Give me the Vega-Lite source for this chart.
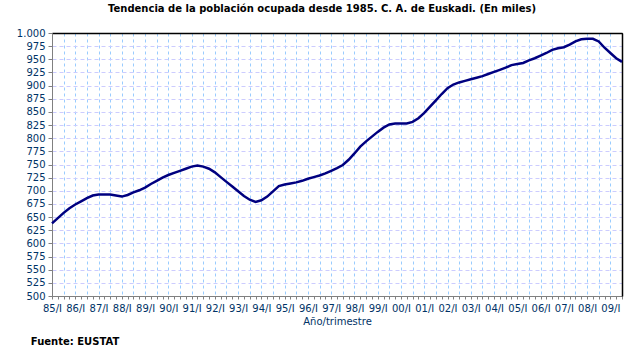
{
 "$schema": "https://vega.github.io/schema/vega-lite/v6.json",
 "background": "white",
 "padding": {"left": 15, "top": 3, "right": 18, "bottom": 6},
 "title": {"text": "Fuente: EUSTAT", "orient": "bottom", "anchor": "start", "frame": "bounds", "fontSize": 10, "fontWeight": "bold", "font": "DejaVu Sans", "color": "black", "offset": 10, "dx": 15},
 "config": {"font": "DejaVu Sans", "view": {"stroke": "black", "strokeWidth": 1}, "concat": {"spacing": 0}},
 "data": {"values": [
  {"t":0,"v":638},{"t":1,"v":648},{"t":2,"v":658},{"t":3,"v":667},{"t":4,"v":674},{"t":5,"v":680},{"t":6,"v":686},{"t":7,"v":691},{"t":8,"v":693},{"t":9,"v":693},
  {"t":10,"v":693},{"t":11,"v":691},{"t":12,"v":689},{"t":13,"v":692},{"t":14,"v":697},{"t":15,"v":701},{"t":16,"v":706},{"t":17,"v":713},{"t":18,"v":719},{"t":19,"v":725},
  {"t":20,"v":730},{"t":21,"v":734},{"t":22,"v":738},{"t":23,"v":742},{"t":24,"v":746},{"t":25,"v":748},{"t":26,"v":746},{"t":27,"v":742},{"t":28,"v":735},{"t":29,"v":726},
  {"t":30,"v":717},{"t":31,"v":708},{"t":32,"v":699},{"t":33,"v":690},{"t":34,"v":683},{"t":35,"v":679},{"t":36,"v":682},{"t":37,"v":689},{"t":38,"v":699},{"t":39,"v":709},
  {"t":40,"v":712},{"t":41,"v":714},{"t":42,"v":716},{"t":43,"v":719},{"t":44,"v":723},{"t":45,"v":726},{"t":46,"v":729},{"t":47,"v":733},{"t":48,"v":738},{"t":49,"v":743},
  {"t":50,"v":749},{"t":51,"v":759},{"t":52,"v":771},{"t":53,"v":784},{"t":54,"v":794},{"t":55,"v":803},{"t":56,"v":812},{"t":57,"v":820},{"t":58,"v":826},{"t":59,"v":828},
  {"t":60,"v":828},{"t":61,"v":828},{"t":62,"v":831},{"t":63,"v":838},{"t":64,"v":848},{"t":65,"v":860},{"t":66,"v":872},{"t":67,"v":884},{"t":68,"v":895},{"t":69,"v":902},
  {"t":70,"v":906},{"t":71,"v":909},{"t":72,"v":912},{"t":73,"v":915},{"t":74,"v":918},{"t":75,"v":922},{"t":76,"v":926},{"t":77,"v":930},{"t":78,"v":934},{"t":79,"v":939},
  {"t":80,"v":941},{"t":81,"v":943},{"t":82,"v":948},{"t":83,"v":952},{"t":84,"v":957},{"t":85,"v":962},{"t":86,"v":968},{"t":87,"v":971},{"t":88,"v":973},{"t":89,"v":978},
  {"t":90,"v":984},{"t":91,"v":988},{"t":92,"v":989},{"t":93,"v":989},{"t":94,"v":984},{"t":95,"v":972},{"t":96,"v":962},{"t":97,"v":952},{"t":98,"v":945}
 ]},
 "vconcat": [{
  "title": {"text": "Tendencia de la población ocupada desde 1985. C. A. de Euskadi. (En miles)", "fontSize": 10, "fontWeight": "bold", "color": "black", "offset": 14, "anchor": "middle", "dx": -15},
  "width": 570,
  "height": 263,
  "resolve": {"axis": {"x": "independent", "y": "independent"}},
  "layer": [
   {
    "mark": {"type": "line", "strokeOpacity": 0},
    "encoding": {
     "x": {"field": "t", "type": "quantitative", "scale": {"domain": [0, 98], "nice": false, "zero": false},
      "axis": {"orient": "bottom", "values": [2,4,6,8,10,12,14,16,18,20,22,24,26,28,30,32,34,36,38,40,42,44,46,48,50,52,54,56,58,60,62,64,66,68,70,72,74,76,78,80,82,84,86,88,90,92,94,96],
       "grid": true, "gridColor": "#99ccff", "gridDash": [3, 3], "gridWidth": 1, "domain": false, "ticks": false, "labels": false, "title": null}},
     "y": {"field": "v", "type": "quantitative", "scale": {"domain": [500, 1000], "nice": false, "zero": false},
      "axis": {"orient": "left", "values": [500,525,550,575,600,625,650,675,700,725,750,775,800,825,850,875,900,925,950,975,1000],
       "grid": true,
       "gridColor": {"condition": {"test": "datum.value == 1000", "value": "#000000"}, "value": "#ccccff"},
       "gridDash": {"condition": {"test": "datum.value == 1000", "value": []}, "value": [4, 3]},
       "gridWidth": {"condition": {"test": "datum.value == 1000", "value": 1.5}, "value": 1},
       "domainColor": "#808080", "tickColor": "#808080", "tickSize": 4,
       "labelColor": "#003366", "labelFontSize": 10, "labelPadding": 3, "labelExpr": "datum.value == 1000 ? '1.000' : datum.label", "title": null}}
    }
   },
   {
    "mark": {"type": "line", "color": "#000080", "strokeWidth": 2.5},
    "encoding": {
     "x": {"field": "t", "type": "quantitative",
      "axis": {"orient": "bottom", "values": [0,1,2,3,4,5,6,7,8,9,10,11,12,13,14,15,16,17,18,19,20,21,22,23,24,25,26,27,28,29,30,31,32,33,34,35,36,37,38,39,40,41,42,43,44,45,46,47,48,49,50,51,52,53,54,55,56,57,58,59,60,61,62,63,64,65,66,67,68,69,70,71,72,73,74,75,76,77,78,79,80,81,82,83,84,85,86,87,88,89,90,91,92,93,94,95,96,97,98],
       "grid": false, "tickSize": 3, "domainColor": "#808080", "tickColor": "#808080", "labelOverlap": false, "labelFlush": false,
       "labelExpr": "datum.value % 4 == 0 ? format((85 + datum.value / 4) % 100, '02d') + '/I' : ''",
       "labelColor": "#003366", "labelFontSize": 10, "labelPadding": 4,
       "title": "Año/trimestre", "titleColor": "#003366", "titleFontSize": 10, "titleFontWeight": "normal", "titlePadding": 3}},
     "y": {"field": "v", "type": "quantitative",
      "axis": {"orient": "right", "domainColor": "#000000", "domainWidth": 1.5, "ticks": false, "labels": false, "grid": false, "title": null}}
    }
   }
  ]
 }]
}
